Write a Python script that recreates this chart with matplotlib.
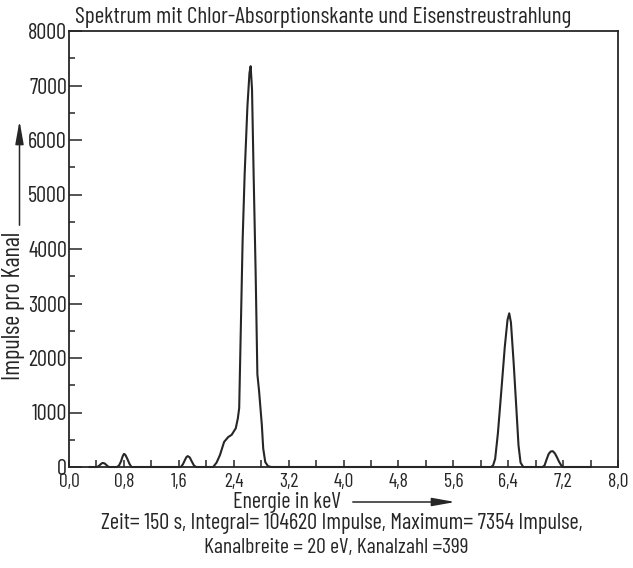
import matplotlib
matplotlib.use("Agg")
import matplotlib.pyplot as plt
from matplotlib.patches import FancyArrowPatch
from matplotlib.ticker import MultipleLocator, FixedLocator, FuncFormatter

# --- Data ---
# each block is one peak, the curve runs on the baseline in between
energy_kev = [
    0.30, 0.41, 0.44, 0.47, 0.49, 0.52, 0.55, 0.58,
    0.70, 0.73, 0.76, 0.78, 0.80, 0.82, 0.85, 0.88, 0.91,
    1.55, 1.63, 1.66, 1.69, 1.71, 1.73, 1.76, 1.79, 1.82, 1.85,
    2.10, 2.15, 2.20, 2.26, 2.32, 2.37, 2.43, 2.46, 2.48, 2.49, 2.51, 2.53,
    2.56, 2.60, 2.63, 2.647, 2.667, 2.69, 2.72, 2.745, 2.77, 2.81, 2.83,
    2.86, 2.90, 2.95,
    6.15, 6.18, 6.21, 6.25, 6.30, 6.35, 6.39, 6.415, 6.44, 6.48, 6.52,
    6.55, 6.58, 6.62,
    6.90, 6.93, 6.96, 6.99, 7.02, 7.05, 7.08, 7.11, 7.14, 7.17, 7.20, 7.60,
]
counts = [
    0, 0, 25, 60, 75, 65, 30, 0,
    0, 30, 110, 190, 240, 225, 150, 60, 0,
    0, 0, 50, 130, 180, 200, 175, 100, 30, 0,
    0, 80, 220, 460, 550, 590, 710, 890, 1080, 1700, 2930, 4160,
    5390, 6620, 7230, 7354, 6930, 5390, 3550, 1700, 1390, 770, 340,
    90, 15, 0,
    0, 30, 150, 620, 1400, 2200, 2700, 2820, 2650, 1900, 1050,
    400, 80, 0,
    0, 30, 140, 240, 285, 290, 250, 180, 100, 35, 0, 0,
]

x_major = [0.0, 0.8, 1.6, 2.4, 3.2, 4.0, 4.8, 5.6, 6.4, 7.2, 8.0]
y_major = [0, 1000, 2000, 3000, 4000, 5000, 6000, 7000, 8000]

title = "Spektrum mit Chlor-Absorptionskante und Eisenstreustrahlung"
xlabel = "Energie in keV"
ylabel = "Impulse pro Kanal"
caption1 = "Zeit= 150 s, Integral= 104620 Impulse, Maximum= 7354 Impulse,"
caption2 = "Kanalbreite = 20 eV, Kanalzahl =399"

# --- Style ---
# narrow lettering like the original drawing; falls back to DejaVu Sans
plt.rcParams['font.family'] = ['Barlow Condensed', 'Roboto Condensed', 'DejaVu Sans']
ink = '#262626'
W, H = 633, 568

def fx(px):
    return px / W

def fy(py):
    return 1 - py / H

fig = plt.figure(figsize=(W / 100, H / 100), dpi=100)
ax = fig.add_axes([fx(69), fy(467), fx(618) - fx(69), fy(31) - fy(467)])
renderer = fig.canvas.get_renderer()

def fit_size(txt, width_px, size=14):
    # font size that gives the text the width it has in the scan
    probe = fig.text(0, 0, txt, fontsize=size)
    w = probe.get_window_extent(renderer).width
    probe.remove()
    return size * width_px / w

ax.plot(energy_kev, counts, color=ink, lw=1.5, solid_joinstyle='round', clip_on=False)

ax.set_xlim(0, 8)
ax.set_ylim(0, 8000)

for s in ax.spines.values():
    s.set_color(ink)
    s.set_linewidth(1.3)

ax.xaxis.set_major_locator(FixedLocator(x_major))
ax.xaxis.set_minor_locator(MultipleLocator(0.4))
ax.xaxis.set_major_formatter(FuncFormatter(lambda v, p: f"{v:.1f}".replace('.', ',')))
ax.yaxis.set_major_locator(FixedLocator(y_major))
ax.yaxis.set_minor_locator(MultipleLocator(500))

tick_size = fit_size("7000", 38)
ax.tick_params(axis='x', which='both', direction='in', length=5, width=1.1,
               color=ink, labelcolor=ink, labelsize=tick_size * 0.88, pad=4)
ax.tick_params(axis='y', which='major', direction='in', length=9, width=1.1,
               color=ink, labelcolor=ink, labelsize=tick_size, pad=1.5)
ax.tick_params(axis='y', which='minor', direction='in', length=4.5, width=1.1, color=ink)

# --- Texts and arrows ---
fig.text(fx(75), fy(23), title, ha='left', va='baseline', color=ink,
         fontsize=fit_size(title, 498))

fig.text(fx(14), fy(306), ylabel, rotation=90, ha='center', va='center', color=ink,
         fontsize=fit_size(ylabel, 148))
fig.add_artist(FancyArrowPatch(
    (fx(19.5), fy(228)), (fx(19.5), fy(118)), transform=fig.transFigure,
    arrowstyle='-|>,head_length=1.4,head_width=0.25', mutation_scale=10,
    color=ink, lw=1.1))

fig.text(fx(287), fy(508), xlabel, ha='center', va='baseline', color=ink,
         fontsize=fit_size(xlabel, 108))
fig.add_artist(FancyArrowPatch(
    (fx(350), fy(502)), (fx(458), fy(502)), transform=fig.transFigure,
    arrowstyle='-|>,head_length=1.4,head_width=0.25', mutation_scale=10,
    color=ink, lw=1.1))

fig.text(fx(342), fy(529), caption1, ha='center', va='baseline', color=ink,
         fontsize=fit_size(caption1, 482))
fig.text(fx(336), fy(553), caption2, ha='center', va='baseline', color=ink,
         fontsize=fit_size(caption2, 264))

fig.savefig("out.png", dpi=100)
